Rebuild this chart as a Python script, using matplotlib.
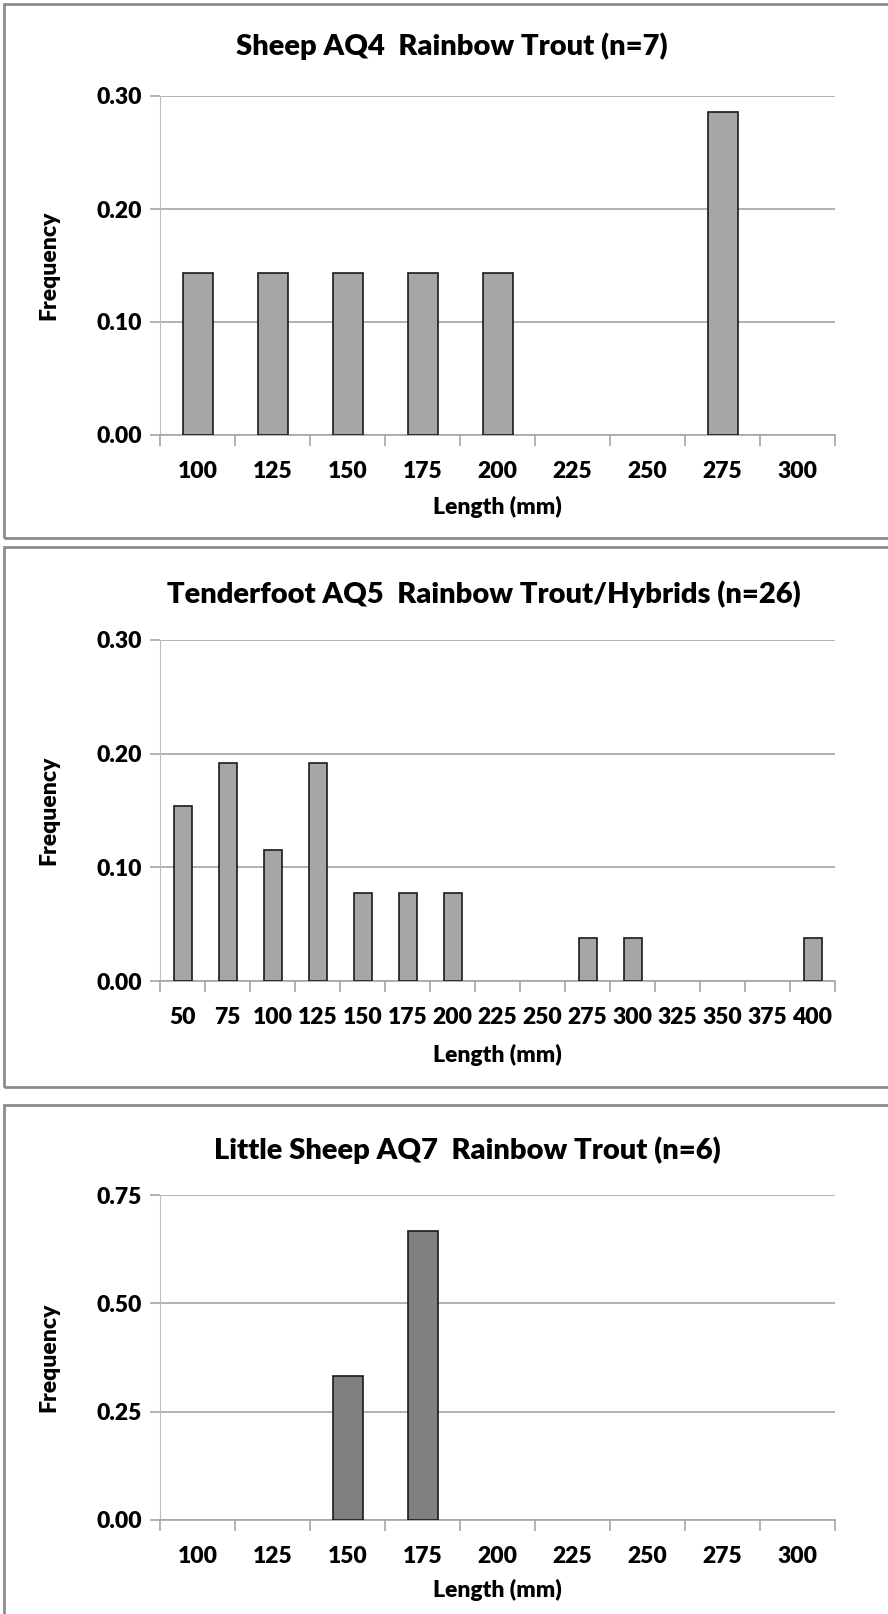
import matplotlib
matplotlib.use("Agg")
import matplotlib.pyplot as plt
from matplotlib.patches import Rectangle

plt.rcParams['font.family'] = ['Lato', 'DejaVu Sans']
plt.rcParams['font.weight'] = 'heavy'
FW = 'heavy'

# ---- data ----
title1 = "Sheep AQ4  Rainbow Trout (n=7)"
cats1 = ["100", "125", "150", "175", "200", "225", "250", "275", "300"]
vals1 = [0.143, 0.143, 0.143, 0.143, 0.143, 0.0, 0.0, 0.286, 0.0]

title2 = "Tenderfoot AQ5  Rainbow Trout/Hybrids (n=26)"
cats2 = ["50", "75", "100", "125", "150", "175", "200", "225", "250", "275",
         "300", "325", "350", "375", "400"]
vals2 = [0.154, 0.192, 0.115, 0.192, 0.077, 0.077, 0.077, 0.0, 0.0, 0.038,
         0.038, 0.0, 0.0, 0.0, 0.038]

title3 = "Little Sheep AQ7  Rainbow Trout (n=6)"
cats3 = ["100", "125", "150", "175", "200", "225", "250", "275", "300"]
vals3 = [0.0, 0.0, 0.333, 0.667, 0.0, 0.0, 0.0, 0.0, 0.0]

yticks1 = [0.0, 0.10, 0.20, 0.30]
yticks2 = [0.0, 0.10, 0.20, 0.30]
yticks3 = [0.0, 0.25, 0.50, 0.75]

W, H = 888, 1614
fig = plt.figure(figsize=(W / 100, H / 100), dpi=100)

def px_rect(x0, y0, x1, y1):
    return [x0 / W, 1 - y1 / H, (x1 - x0) / W, (y1 - y0) / H]

# panel borders
for (top, bot) in [(4, 538), (547, 1087), (1105, 1640)]:
    fig.add_artist(Rectangle((4 / W, 1 - bot / H), (W + 20) / W, (bot - top) / H,
                             transform=fig.transFigure, fill=False,
                             edgecolor='#8c8c8c', linewidth=2.0))

panels = [
    (title1, cats1, vals1, yticks1, 96, 435, 46, 452, 507, '#a6a6a6'),
    (title2, cats2, vals2, yticks2, 640, 981, 594, 484, 1055, '#a6a6a6'),
    (title3, cats3, vals3, yticks3, 1195, 1520, 1150, 467, 1590, '#808080'),
]

TS = 16.5
x0, x1 = 160, 835
for title, cats, vals, yt, ytop, ybot, ty, tx, lx, color in panels:
    ax = fig.add_axes(px_rect(x0, ytop, x1, ybot))
    n = len(cats)
    idx = [i for i, v in enumerate(vals) if v > 0]
    ax.bar(idx, [vals[i] for i in idx], width=0.4, color=color,
           edgecolor='#1a1a1a', linewidth=1.2, zorder=3)
    ax.set_xlim(-0.5, n - 0.5)
    ax.set_ylim(0, yt[-1])
    ax.set_yticks(yt)
    ax.set_yticklabels([f"{v:.2f}" for v in yt], fontsize=TS, fontweight=FW)
    ax.yaxis.grid(True, color='#a6a6a6', linewidth=1.2, zorder=0)
    ax.set_axisbelow(True)
    ax.set_xticks(list(range(n)))
    ax.set_xticklabels(cats, fontsize=TS, fontweight=FW)
    ax.tick_params(axis='x', which='major', length=0, pad=19)
    ax.set_xticks([i - 0.5 for i in range(n + 1)], minor=True)
    ax.tick_params(axis='x', which='minor', length=8, color='#a6a6a6', width=1.2,
                   direction='out')
    ax.tick_params(axis='y', length=7, color='#a6a6a6', width=1.2, pad=6)
    for s in ['top', 'right']:
        ax.spines[s].set_visible(False)
    ax.spines['left'].set_color('#bfbfbf')
    ax.spines['bottom'].set_color('#a6a6a6')
    ax.spines['bottom'].set_linewidth(1.2)
    fig.text(tx / W, 1 - ty / H, title, ha='center', va='center',
             fontsize=21, fontweight=FW)
    fig.text((x0 + x1) / 2 / W, 1 - lx / H, "Length (mm)", ha='center',
             va='center', fontsize=TS, fontweight=FW)
    fig.text(49 / W, 1 - (ytop + ybot) / 2 / H, "Frequency", ha='center',
             va='center', rotation=90, fontsize=TS, fontweight=FW)

fig.savefig("out.png", dpi=100, facecolor='white')
